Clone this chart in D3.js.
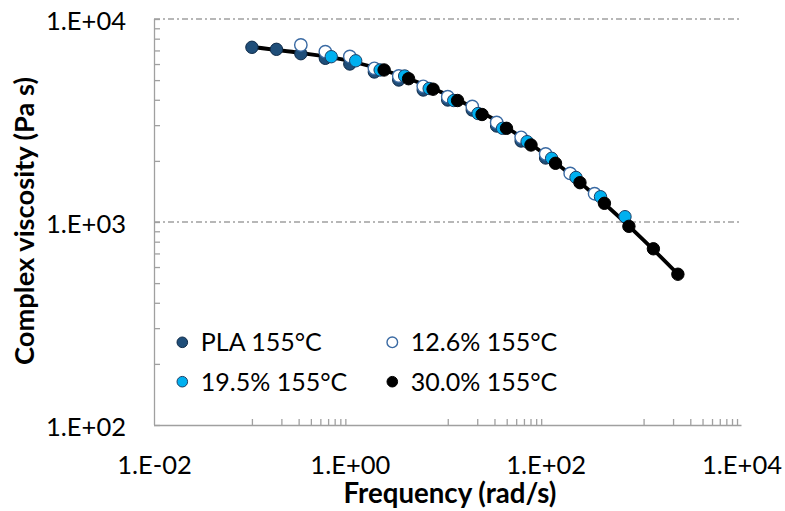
<!DOCTYPE html>
<html><head><meta charset="utf-8">
<script src="https://cdn.jsdelivr.net/npm/d3@7"></script>
<style>
html,body{margin:0;padding:0;background:#fff;}
svg{display:block;}
text{font-family:Lato,"Open Sans",sans-serif;fill:#000;}
</style></head><body>
<svg id="chart" width="785" height="511"></svg>
<script>
// ---- data ----
const plaFreq  = [0.1,0.178,0.316,0.562,1,1.78,3.16,5.62,10,17.8,31.6,56.2,100];
const plaVisc  = [7255,7090,6745,6403,6003,5482,5006,4469,3990,3561,2971,2506,2067];
const p126Freq = [0.316,0.562,1,1.78,3.16,5.62,10,17.8,31.6,56.2,100,178,316];
const p126Visc = [7447,6901,6536,5716,5239,4662,4142,3707,3092,2614,2163,1734,1378];
const p195Freq = [0.646,1.148,2.04,3.63,6.46,11.5,20.4,36.3,64.6,115,204,363,646];
const p195Visc = [6521,6225,5609,5239,4546,3967,3423,2894,2487,2060,1657,1332,1062];
const p300Freq = [2.24,3.98,7.08,12.6,22.4,39.8,70.8,126,224,398,708,1259,2240];
const p300Visc = [5609,5081,4510,3967,3385,2894,2395,1946,1562,1236,952,738,553];
const fitFreq  = [0.1,0.316,1,3.16,10,31.6,100,316,1000,2340];
const fitVisc  = [7278,6800,6210,5297,4224,3145,2138,1359,815,542];
const seriesNames = ["PLA 155°C","12.6% 155°C","19.5% 155°C","30.0% 155°C"];
const xTickLabels = [1e-2,1e0,1e2,1e4];
const yTickLabels = [1e2,1e3,1e4];
const xTitle = "Frequency (rad/s)";
const yTitle = "Complex viscosity (Pa s)";

const series = [
  {name:seriesNames[0], f:plaFreq,  v:plaVisc,  fill:"#1f4e79", stroke:"#0e2a48", sw:1},
  {name:seriesNames[1], f:p126Freq, v:p126Visc, fill:"#ffffff", stroke:"#3a6aa3", sw:1.4},
  {name:seriesNames[2], f:p195Freq, v:p195Visc, fill:"#00b0f0", stroke:"#1d3f66", sw:1},
  {name:seriesNames[3], f:p300Freq, v:p300Visc, fill:"#000000", stroke:"#000000", sw:1}
];

const svg = d3.select("#chart");
const X0=154, X1=741.5, Y0=425, Y1=19;
const x = d3.scaleLog().domain([1e-2,1e4]).range([X0,X1]);
const y = d3.scaleLog().domain([1e2,1e4]).range([Y0,Y1]);
const gray = "#a0a0a0";

function fitSize(str, weight, target){
  const t = svg.append("text").attr("font-size",20).attr("font-weight",weight).text(str);
  const w = t.node().getComputedTextLength();
  t.remove();
  return 20*target/w;
}
const fsTick = fitSize("1.E+04","normal",80);
const fsLeg  = fitSize("PLA 155°C","normal",121);
const fsX    = fitSize(xTitle,"bold",213);
const fsY    = fitSize(yTitle,"bold",288);
const fmt = d => { const e=Math.round(Math.log10(d)); return "1.E"+(e<0?"-":"+")+String(Math.abs(e)).padStart(2,"0"); };

// gridlines
svg.append("g").selectAll("line").data([1e3,1e4]).join("line")
  .attr("x1",X0).attr("x2",X1).attr("y1",d=>y(d)).attr("y2",d=>y(d))
  .attr("stroke",gray).attr("stroke-width",1.3).attr("stroke-dasharray","6,3,2,3");

// minor ticks
const yMinor=[]; [2,3].forEach(n=>{for(let k=1;k<=9;k++) yMinor.push(k*Math.pow(10,n));}); yMinor.push(1e4);
const xMinor=[]; [-1,1,3].forEach(n=>{for(let k=1;k<=9;k++) xMinor.push(k*Math.pow(10,n));});

const yAx = svg.append("g").attr("transform",`translate(${X0},0)`)
  .call(d3.axisRight(y).tickValues(yMinor).tickSize(6).tickFormat(""));
const xAx = svg.append("g").attr("transform",`translate(0,${Y0})`)
  .call(d3.axisTop(x).tickValues(xMinor).tickSize(6).tickFormat(""));
[yAx,xAx].forEach(g=>{
  g.selectAll("path,line").attr("stroke",gray).attr("stroke-width",1.3);
  g.select(".domain").attr("d", g===yAx ? `M0.5,${Y1}V${Y0}` : `M${X0},0.5H${X1}`);
});

// tick labels
const yLab = svg.append("g").attr("transform",`translate(126,0)`)
  .call(d3.axisLeft(y).tickValues(yTickLabels).tickSize(0).tickPadding(0).tickFormat(fmt));
yLab.select(".domain").remove();
yLab.selectAll("text").attr("font-size",fsTick).attr("font-family","Lato").attr("fill","#000")
  .attr("x",0).attr("y",1).attr("dy","0.36em").attr("text-anchor","end");
const xLab = svg.append("g").attr("transform",`translate(0,${Y0})`)
  .call(d3.axisBottom(x).tickValues(xTickLabels).tickSize(0).tickFormat(fmt));
xLab.select(".domain").remove();
xLab.selectAll("text").attr("font-size",fsTick).attr("font-family","Lato").attr("fill","#000")
  .attr("y",49).attr("dy",0);

// axis titles
svg.append("text").attr("x",450).attr("y",503).attr("text-anchor","middle")
  .attr("font-weight","bold").attr("font-size",fsX).text(xTitle);
svg.append("text").attr("transform","translate(33.5,221) rotate(-90)").attr("text-anchor","middle")
  .attr("font-weight","bold").attr("font-size",fsY).text(yTitle);

// fit line
svg.append("path").datum(fitFreq.map((f,i)=>[f,fitVisc[i]]))
  .attr("fill","none").attr("stroke","#000").attr("stroke-width",3.8)
  .attr("d", d3.line().x(d=>x(d[0])).y(d=>y(d[1])).curve(d3.curveMonotoneX));

// markers
series.forEach(s=>{
  svg.append("g").selectAll("circle").data(s.f.map((f,i)=>[f,s.v[i]])).join("circle")
    .attr("cx",d=>x(d[0])).attr("cy",d=>y(d[1])).attr("r",6.2)
    .attr("fill",s.fill).attr("stroke",s.stroke).attr("stroke-width",s.sw);
});

// legend
const legPos = [[182.3,342.3],[392.3,342.3],[182.3,381.7],[392.3,381.7]];
const leg = svg.append("g").selectAll("g").data(series).join("g")
  .attr("transform",(d,i)=>`translate(${legPos[i][0]},${legPos[i][1]})`);
leg.append("circle").attr("r",5.3).attr("fill",d=>d.fill).attr("stroke",d=>d.stroke).attr("stroke-width",d=>d.sw);
leg.append("text").attr("x",18.5).attr("y",0).attr("dy","0.36em").attr("font-size",fsLeg).text(d=>d.name);
</script>
</body></html>
